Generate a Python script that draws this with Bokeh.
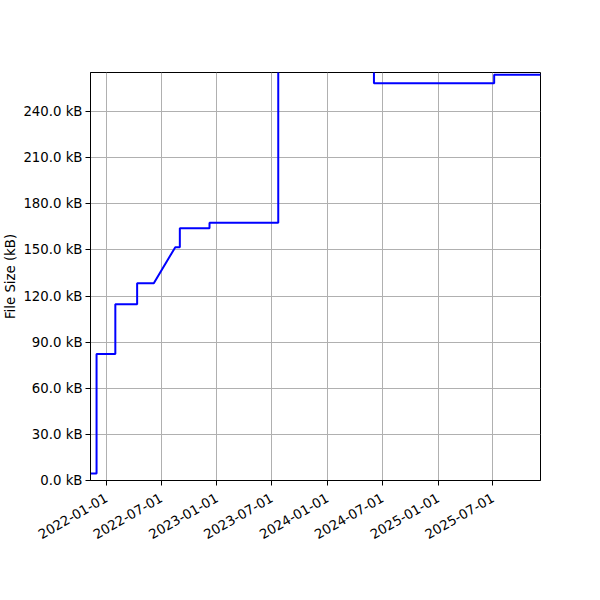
import math
from datetime import datetime
from bokeh.plotting import figure
from bokeh.models import Range1d, FixedTicker, PrintfTickFormatter, DatetimeTickFormatter
from bokeh.embed import file_html
from bokeh.resources import INLINE

# Data (release date, file size in kB)
dates = ["2021-11-10", "2021-11-30", "2021-11-30", "2022-01-31", "2022-01-31",
         "2022-04-13", "2022-04-13", "2022-06-07", "2022-08-17", "2022-09-01",
         "2022-09-01", "2022-12-08", "2022-12-08", "2023-07-23", "2023-07-23",
         "2024-06-03", "2024-06-03", "2025-07-05", "2025-07-05", "2025-12-05"]
sizes_kb = [4.5, 4.5, 82.3, 82.3, 114.7,
            114.7, 128.3, 128.3, 151.8, 151.8,
            164.1, 164.1, 167.6, 167.6, 290.0,
            290.0, 258.4, 258.4, 264.0, 264.0]

x_tick_dates = ["2022-01-01", "2022-07-01", "2023-01-01", "2023-07-01",
                "2024-01-01", "2024-07-01", "2025-01-01", "2025-07-01"]
y_ticks = [0, 30, 60, 90, 120, 150, 180, 210, 240]
y_top = 265.4
y_label = "File Size (kB)"

xs = [datetime.strptime(d, "%Y-%m-%d") for d in dates]
tick_ms = [datetime.strptime(d, "%Y-%m-%d").timestamp() * 1000 for d in x_tick_dates]

p = figure(x_axis_type="datetime", output_backend="svg", toolbar_location=None,
           frame_width=450, frame_height=408,
           min_border_left=90, min_border_top=72, min_border_right=60, min_border_bottom=120,
           x_range=Range1d(xs[0], xs[-1]), y_range=Range1d(0, y_top))

p.line(xs, sizes_kb, line_color="blue", line_width=2)

p.xaxis.ticker = FixedTicker(ticks=tick_ms)
fmt = "%Y-%m-%d"
p.xaxis.formatter = DatetimeTickFormatter(milliseconds=fmt, seconds=fmt, minsec=fmt, minutes=fmt,
                                          hourmin=fmt, hours=fmt, days=fmt, months=fmt, years=fmt)
p.xaxis.major_label_orientation = math.pi / 6
p.xaxis.major_label_standoff = 11
p.yaxis.ticker = FixedTicker(ticks=y_ticks)
p.yaxis.formatter = PrintfTickFormatter(format="%.1f kB")
p.yaxis.axis_label = y_label
p.yaxis.axis_label_standoff = 2
p.yaxis.major_label_standoff = 3

for ax in (p.xaxis, p.yaxis):
    ax.major_label_text_font = "DejaVu Sans"
    ax.major_label_text_font_size = "13.3px"
    ax.major_label_text_color = "black"
    ax.axis_label_text_font = "DejaVu Sans"
    ax.axis_label_text_font_size = "13.3px"
    ax.axis_label_text_font_style = "normal"
    ax.axis_label_text_color = "black"
    ax.axis_line_color = "black"
    ax.axis_line_width = 1
    ax.major_tick_line_color = "black"
    ax.major_tick_in = 0
    ax.major_tick_out = 5
    ax.minor_tick_line_color = None

p.grid.grid_line_color = "#b0b0b0"
p.grid.grid_line_width = 1
p.outline_line_color = "black"
p.outline_line_width = 1
p.outline_line_alpha = 1

open("out.html", "w").write(file_html(p, INLINE))
